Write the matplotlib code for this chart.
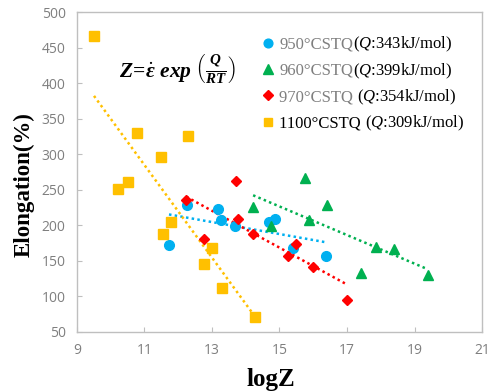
import matplotlib
matplotlib.use("Agg")
import matplotlib.pyplot as plt
from matplotlib.lines import Line2D

plt.rcParams["mathtext.fontset"] = "custom"
plt.rcParams["mathtext.rm"] = "Liberation Serif"
plt.rcParams["mathtext.it"] = "Liberation Serif:italic"
plt.rcParams["mathtext.bf"] = "Liberation Serif:bold"
plt.rcParams["mathtext.bfit"] = "Liberation Serif:bold:italic"

# 950C STQ
x950 = [11.73, 12.27, 13.18, 13.26, 13.69, 14.69, 14.88, 15.40, 16.39]
y950 = [172, 228, 223, 207, 199, 205, 208, 168, 157]
# 960C STQ
x960 = [14.22, 14.76, 15.76, 15.87, 16.40, 17.41, 17.87, 18.40, 19.40]
y960 = [226, 199, 266, 207, 228, 133, 169, 166, 129]
# 970C STQ
x970 = [12.24, 13.72, 13.78, 12.76, 14.22, 15.25, 15.49, 16.00, 17.00]
y970 = [235, 262, 208, 181, 188, 156, 174, 141, 95]
# 1100C STQ
x1100 = [9.52, 10.79, 12.30, 11.49, 10.22, 10.51, 11.79, 11.54, 13.01, 12.78, 13.29, 14.29]
y1100 = [467, 330, 325, 296, 251, 260, 204, 188, 168, 145, 112, 70]

# linear trend lines (end points)
trend950 = ([11.73, 16.35], [215, 176])
trend960 = ([14.22, 19.38], [242, 138])
trend970 = ([12.24, 17.01], [240, 116])
trend1100 = ([9.51, 14.17], [382, 78])

names = ["950°CSTQ", "960°CSTQ", "970°CSTQ ", "1100°CSTQ "]
qtext = ["($Q$:343kJ/mol)", "($Q$:399kJ/mol)", "($Q$:354kJ/mol)", "($Q$:309kJ/mol)"]
name_colors = ["#7f7f7f", "#7f7f7f", "#7f7f7f", "black"]

series = [
    (x950, y950, trend950, "#00B0F0", "o", 7),
    (x960, y960, trend960, "#00B050", "^", 7.5),
    (x970, y970, trend970, "#FF0000", "D", 5.5),
    (x1100, y1100, trend1100, "#FFC000", "s", 7),
]

fig = plt.figure(figsize=(4.89, 3.91), dpi=100)
ax = fig.add_axes([0.157, 0.152, 0.829, 0.817])

for xs, ys, tr, c, m, ms in series:
    ax.plot(tr[0], tr[1], color=c, lw=1.8, ls=(0, (1, 1.3)), zorder=2)
for xs, ys, tr, c, m, ms in series:
    ax.plot(xs, ys, ls="none", marker=m, color=c, markersize=ms, mec=c, zorder=3)

ax.set_xlim(9, 21)
ax.set_ylim(50, 500)
ax.set_xticks(range(9, 22, 2))
ax.set_yticks(range(50, 501, 50))
for s in ax.spines.values():
    s.set_color("#bfbfbf")
    s.set_linewidth(1.0)
ax.tick_params(direction="in", length=3.5, color="#bfbfbf", labelcolor="#7f7f7f",
               labelsize=10, pad=8)
for lab in ax.get_xticklabels() + ax.get_yticklabels():
    lab.set_fontfamily("Open Sans")

ax.set_xlabel("logZ", fontfamily="Liberation Serif", fontweight="bold", fontsize=18)
ax.set_ylabel("Elongation(%)", fontfamily="Liberation Serif", fontweight="bold", fontsize=16.5)
ax.xaxis.set_label_coords(0.48, -0.115)
ax.yaxis.set_label_coords(-0.105, 0.46)

handles = [Line2D([0], [0], ls="none", marker=m, color=c, mec=c, markersize=ms * 0.9)
           for _, _, _, c, m, ms in series]
leg = ax.legend(handles, names, loc="upper left", bbox_to_anchor=(0.43, 0.945), frameon=False,
                prop={"family": "Liberation Serif", "size": 12}, handletextpad=0.1,
                handlelength=1.2, labelspacing=0.62, borderaxespad=0)
for t, col, q in zip(leg.get_texts(), name_colors, qtext):
    t.set_color(col)
    ax.annotate(q, xy=(1, 0), xycoords=t, xytext=(0, -1.5), textcoords="offset points",
                fontfamily="Liberation Serif", fontsize=12, color="black", va="bottom",
                zorder=10)

ax.text(0.105, 0.82,
        r"$\mathbfit{Z}\!\mathbf{=}\!\dot{\mathbfit{\varepsilon}}\ \mathbfit{exp}\ \left(\frac{\mathbfit{Q}}{\mathbfit{RT}}\right)$",
        transform=ax.transAxes, fontsize=15.5, va="center", ha="left")

fig.savefig("out.png", dpi=100)
